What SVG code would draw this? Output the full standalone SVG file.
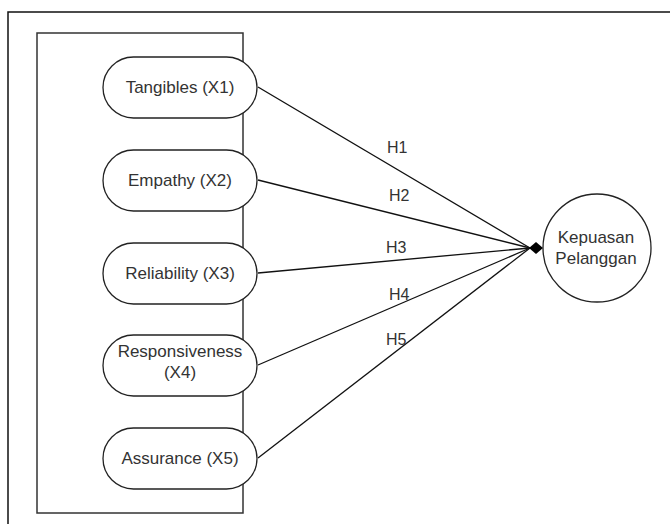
<svg xmlns="http://www.w3.org/2000/svg" width="670" height="524" viewBox="0 0 670 524">
<style>
.pill{fill:#fff;stroke:#222;stroke-width:1.3}
.t{font-family:"Liberation Sans",Arial,sans-serif;font-size:17px;fill:#333;text-anchor:middle}
.h{font-family:"Liberation Sans",Arial,sans-serif;font-size:16px;fill:#333}
.c{stroke:#111;stroke-width:1.3;fill:none}
</style>
<rect width="670" height="524" fill="#fff"/>
<rect x="8" y="12" width="700" height="600" fill="none" stroke="#111" stroke-width="1.5"/>
<rect id="group-box" x="37" y="33" width="206" height="480" fill="none" stroke="#333" stroke-width="1.5"/>
<g id="connectors">
<line class="c" x1="258" y1="87" x2="530" y2="248"/>
<line class="c" x1="258" y1="180" x2="530" y2="248"/>
<line class="c" x1="258" y1="273" x2="530" y2="248"/>
<line class="c" x1="258" y1="365" x2="530" y2="248"/>
<line class="c" x1="258" y1="458" x2="530" y2="248"/>
<polygon points="529,248 536,242 543,248 536,254" fill="#000"/>
<text class="h" x="387" y="153">H1</text>
<text class="h" x="389" y="201">H2</text>
<text class="h" x="386" y="253">H3</text>
<text class="h" x="389" y="300">H4</text>
<text class="h" x="386" y="345">H5</text>
</g>
<g id="x1"><rect class="pill" x="103" y="57" width="154" height="61" rx="30.5"/><text class="t" x="180" y="93">Tangibles (X1)</text></g>
<g id="x2"><rect class="pill" x="103" y="150" width="154" height="61" rx="30.5"/><text class="t" x="180" y="186">Empathy (X2)</text></g>
<g id="x3"><rect class="pill" x="103" y="243" width="154" height="61" rx="30.5"/><text class="t" x="180" y="279">Reliability (X3)</text></g>
<g id="x4"><rect class="pill" x="103" y="335" width="154" height="61" rx="30.5"/><text class="t" x="180" y="357">Responsiveness</text><text class="t" x="180" y="378">(X4)</text></g>
<g id="x5"><rect class="pill" x="103" y="428" width="154" height="61" rx="30.5"/><text class="t" x="180" y="464">Assurance (X5)</text></g>
<g id="y"><circle cx="597" cy="248" r="54" fill="#fff" stroke="#222" stroke-width="1.3"/><text class="t" x="596" y="243">Kepuasan</text><text class="t" x="596" y="264">Pelanggan</text></g>
</svg>
